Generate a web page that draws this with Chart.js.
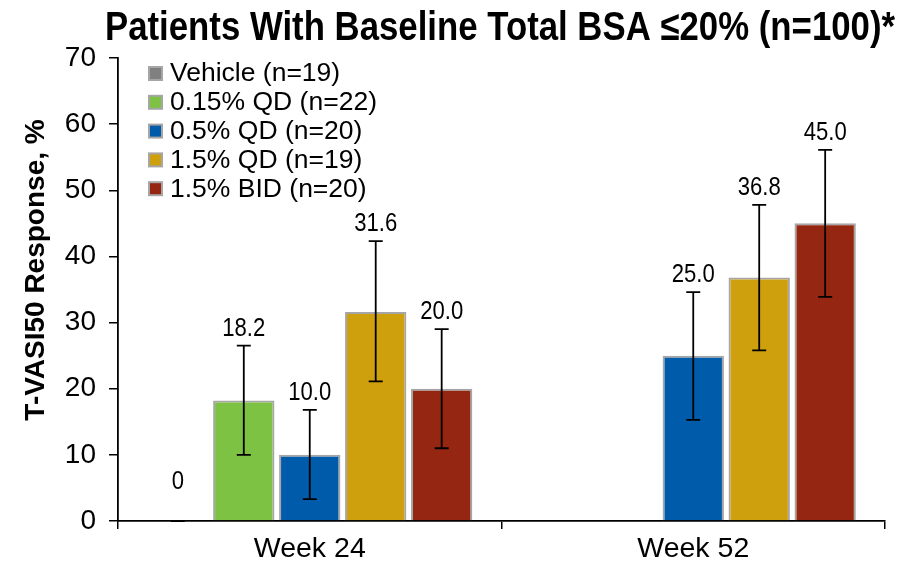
<!DOCTYPE html>
<html>
<head>
<meta charset="utf-8">
<script src="https://cdn.jsdelivr.net/npm/chart.js@4.4.1/dist/chart.umd.min.js"></script>
<style>
  html, body { margin: 0; padding: 0; background: #fff; }
  #wrap { width: 908px; height: 568px; }
</style>
</head>
<body>
<div id="wrap"><canvas id="c" width="908" height="568"></canvas></div>
<script>
// Categories and tick labels
const weeks = ['Week 24', 'Week 52'];
const yTicks = [0, 10, 20, 30, 40, 50, 60, 70];

// Treatment arms
const armNames = ['Vehicle (n=19)', '0.15% QD (n=22)', '0.5% QD (n=20)', '1.5% QD (n=19)', '1.5% BID (n=20)'];
const armColors = ['#808080', '#7dc242', '#005baa', '#cfa00e', '#952712'];

// T-VASI50 response (%) per arm, Week 24 / Week 52
const vehicle = [0, null];
const qd015 = [18.2, null];
const qd05 = [10.0, 25.0];
const qd15 = [31.6, 36.8];
const bid15 = [20.0, 45.0];

// Error bar lower / upper limits per arm
const vehicleLo = [0, null],  vehicleHi = [0, null];
const qd015Lo = [10.0, null], qd015Hi = [26.5, null];
const qd05Lo = [3.3, 15.3],   qd05Hi = [16.8, 34.6];
const qd15Lo = [21.1, 25.8],  qd15Hi = [42.3, 47.8];
const bid15Lo = [11.0, 33.9], bid15Hi = [29.0, 56.1];

const series = [vehicle, qd015, qd05, qd15, bid15];
const lows = [vehicleLo, qd015Lo, qd05Lo, qd15Lo, bid15Lo];
const highs = [vehicleHi, qd015Hi, qd05Hi, qd15Hi, bid15Hi];

const titleText = 'Patients With Baseline Total BSA \u226420% (n=100)*';
const yTitle = 'T-VASI50 Response, %';
const FONT = '"Liberation Sans", Arial, sans-serif';

// Draws horizontally condensed text
function narrowText(ctx, text, x, y, font, sx, align) {
  ctx.save();
  ctx.font = font;
  ctx.textAlign = align || 'center';
  ctx.translate(x, y);
  ctx.scale(sx, 1);
  ctx.fillText(text, 0, 0);
  ctx.restore();
}

const decorations = {
  id: 'decorations',
  afterDatasetsDraw(chart) {
    const ctx = chart.ctx;
    const y = chart.scales.y;
    ctx.save();
    // error bars and value labels
    chart.data.datasets.forEach((ds, di) => {
      const meta = chart.getDatasetMeta(di);
      meta.data.forEach((bar, i) => {
        const v = ds.data[i];
        if (v === null || v === undefined) return;
        const lo = lows[di][i], hi = highs[di][i];
        const yl = y.getPixelForValue(lo), yh = y.getPixelForValue(hi);
        ctx.strokeStyle = '#000';
        ctx.lineWidth = 1.8;
        ctx.beginPath();
        ctx.moveTo(bar.x, yl); ctx.lineTo(bar.x, yh);
        ctx.moveTo(bar.x - 7, yl); ctx.lineTo(bar.x + 7, yl);
        ctx.moveTo(bar.x - 7, yh); ctx.lineTo(bar.x + 7, yh);
        ctx.stroke();
        ctx.fillStyle = '#000';
        ctx.textBaseline = 'alphabetic';
        const lift = v === 0 ? 32 : 10;
        narrowText(ctx, v === 0 ? '0' : v.toFixed(1), bar.x, yh - lift,
                   '26px ' + FONT, 0.85, 'center');
      });
    });
    ctx.restore();
  },
  afterDraw(chart) {
    const ctx = chart.ctx;
    ctx.save();
    ctx.fillStyle = '#000';
    // title, condensed to fit its line
    ctx.font = 'bold 41px ' + FONT;
    const w = ctx.measureText(titleText).width;
    ctx.textBaseline = 'alphabetic';
    narrowText(ctx, titleText, 105, 40, 'bold 41px ' + FONT, 790 / w, 'left');
    // y axis title
    ctx.save();
    ctx.translate(36, 270);
    ctx.rotate(-Math.PI / 2);
    ctx.font = 'bold 28px ' + FONT;
    ctx.textAlign = 'center';
    ctx.textBaseline = 'middle';
    ctx.fillText(yTitle, 0, 0);
    ctx.restore();
    // legend
    ctx.font = '26.5px ' + FONT;
    ctx.textAlign = 'left';
    ctx.textBaseline = 'middle';
    chart.data.datasets.forEach((ds, i) => {
      const cy = 73 + i * 28.8;
      ctx.fillStyle = '#a6a6a6';
      ctx.fillRect(148, cy - 7, 15, 15);
      ctx.fillStyle = ds.backgroundColor;
      ctx.fillRect(150, cy - 5, 11, 11);
      ctx.fillStyle = '#000';
      ctx.fillText(ds.label, 170, cy + 1);
    });
    ctx.restore();
  }
};

new Chart(document.getElementById('c'), {
  type: 'bar',
  data: {
    labels: weeks,
    datasets: series.map((d, i) => ({
      label: armNames[i],
      data: d,
      backgroundColor: armColors[i],
      borderColor: '#a6a6a6',
      borderWidth: 2,
      categoryPercentage: 0.86,
      barPercentage: 0.93
    }))
  },
  options: {
    responsive: false,
    animation: false,
    devicePixelRatio: 1,
    layout: { padding: { top: 58, right: 23, left: 0, bottom: 0 } },
    plugins: { legend: { display: false }, title: { display: false }, tooltip: { enabled: false } },
    scales: {
      x: {
        grid: { display: true, drawOnChartArea: false, drawTicks: true, tickLength: 8, color: '#000', lineWidth: 1.5, offset: true },
        border: { display: true, color: '#000', width: 1.8 },
        ticks: { color: '#000', font: { family: FONT, size: 28.5 }, padding: 3 },
        afterFit(s) { s.height = 47; }
      },
      y: {
        min: 0, max: 70,
        afterBuildTicks(s) { s.ticks = yTicks.map(v => ({ value: v })); },
        grid: { display: true, drawOnChartArea: false, drawTicks: true, tickLength: 9, color: '#000', lineWidth: 1.5 },
        border: { display: true, color: '#000', width: 1.8 },
        ticks: { color: '#000', font: { family: FONT, size: 28 }, padding: 13 },
        afterFit(s) { s.width = 118; }
      }
    }
  },
  plugins: [decorations]
});
</script>
</body>
</html>
